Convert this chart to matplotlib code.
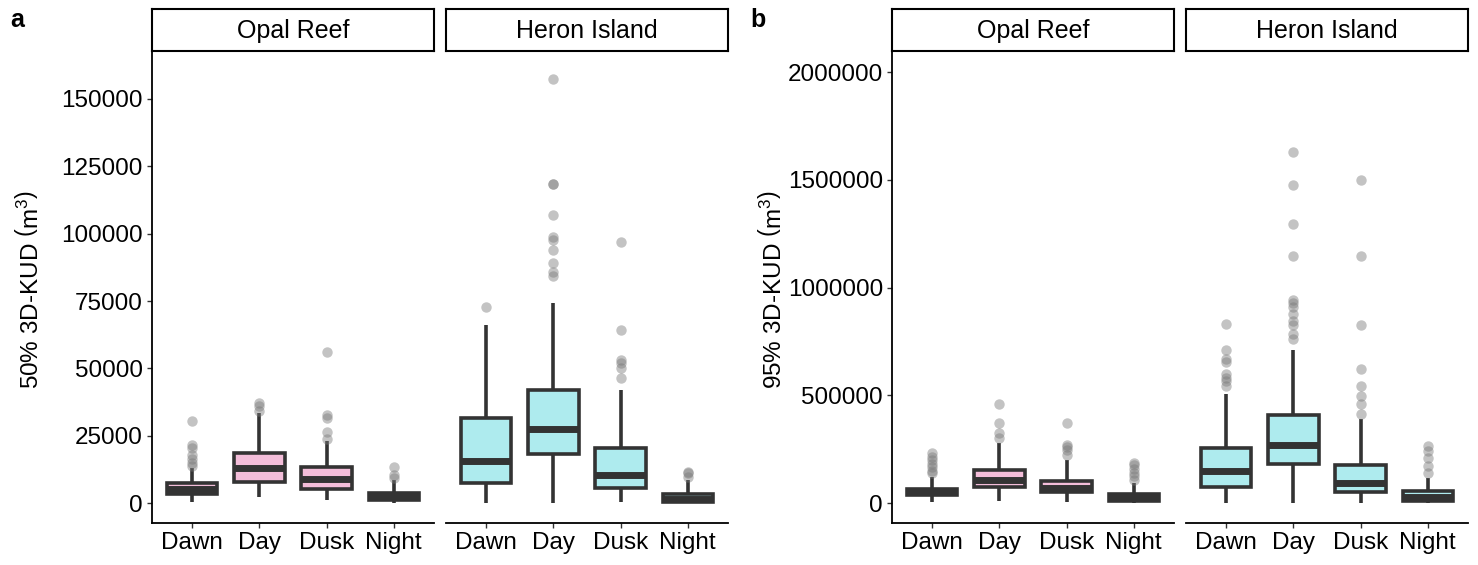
import matplotlib
matplotlib.use("Agg")
import matplotlib.pyplot as plt

plt.rcParams["font.family"] = ["Liberation Sans", "DejaVu Sans"]
plt.rcParams["mathtext.fontset"] = "custom"
plt.rcParams["mathtext.rm"] = "Liberation Sans"
plt.rcParams["mathtext.it"] = "Liberation Sans:italic"

periods = ["Dawn", "Day", "Dusk", "Night"]
sites = ["Opal Reef", "Heron Island"]

# five-number summaries per period: [lower whisker, Q1, median, Q3, upper whisker]
k50_opal_box = [[400, 3300, 5100, 7500, 13000],
                [2100, 7700, 13000, 18700, 33400],
                [1100, 5100, 8800, 13300, 23000],
                [0, 1150, 2400, 3700, 8500]]
k50_opal_out = [[13800, 15000, 16500, 17800, 20400, 21600, 30500],
                [34000, 36000, 37000],
                [23800, 26500, 31500, 32700, 56000],
                [9300, 10500, 13500]]
k50_heron_box = [[0, 7300, 15600, 31700, 66100],
                 [0, 18100, 27500, 42000, 74200],
                 [300, 5500, 10400, 20500, 42000],
                 [0, 550, 1600, 3500, 8500]]
k50_heron_out = [[72600],
                 [84100, 85900, 89000, 94000, 97700, 98900, 107100, 118500, 118500, 157500],
                 [46300, 50000, 51900, 53100, 64300, 96800],
                 [9800, 11000, 11600]]

k95_opal_box = [[6000, 35000, 51000, 67000, 123000],
                [7000, 76500, 108000, 155000, 279000],
                [3000, 50000, 71000, 101000, 200000],
                [0, 11600, 25000, 39500, 95000]]
k95_opal_out = [[139000, 150000, 165000, 180000, 200000, 215000, 232000],
                [302000, 326000, 372000, 461000],
                [224000, 248000, 262000, 271000, 372000],
                [107000, 125000, 140000, 160000, 175000, 186000]]
k95_heron_box = [[0, 76200, 149500, 255600, 504700],
                 [0, 181000, 271000, 406500, 710000],
                 [0, 53000, 92800, 178600, 388000],
                 [0, 10000, 30000, 55000, 115000]]
k95_heron_out = [[543000, 565000, 582000, 598000, 653000, 668000, 710000, 832000],
                 [762000, 785000, 824000, 844000, 878000, 910000, 930000, 941000,
                  1146000, 1294000, 1478000, 1631000],
                 [411000, 458000, 497000, 543000, 621000, 824000, 1146000, 1497000],
                 [139000, 170000, 209000, 240000, 263000]]

site_fill = {"Opal Reef": "#F3BDD9", "Heron Island": "#AEEBEE"}
dark = "#333333"

W, H = 1478, 565
fig = plt.figure(figsize=(W / 100, H / 100), dpi=100)


def px_rect(x0, x1, y_top, y_bot):
    return [x0 / W, 1 - y_bot / H, (x1 - x0) / W, (y_bot - y_top) / H]


def stats_from(boxes, outs):
    rows = []
    for (lo, q1, med, q3, hi), fl in zip(boxes, outs):
        rows.append(dict(whislo=lo, q1=q1, med=med, q3=q3, whishi=hi, fliers=fl))
    return rows


def draw_facet(x0, x1, site, boxes, outs, ylim, yticks, first):
    ax = fig.add_axes(px_rect(x0, x1, 51, 523))
    fill = site_fill[site]
    ax.bxp(stats_from(boxes, outs), positions=range(1, 5), widths=0.75,
           patch_artist=True, showcaps=False,
           boxprops=dict(facecolor=fill, edgecolor=dark, linewidth=2.6),
           whiskerprops=dict(color=dark, linewidth=2.6, solid_capstyle="butt"),
           medianprops=dict(color=dark, linewidth=5.0, solid_capstyle="butt"),
           flierprops=dict(marker="o", markerfacecolor="#7a7a7a",
                           markeredgecolor="none", alpha=0.45, markersize=7.5))
    ax.set_xlim(0.4, 4.6)
    ax.set_ylim(*ylim)
    ax.set_xticks(range(1, 5))
    ax.set_xticklabels(periods)
    ax.set_yticks(yticks)
    ax.set_yticklabels([str(v) for v in yticks])
    for s in ["top", "right"]:
        ax.spines[s].set_visible(False)
    ax.spines["bottom"].set_linewidth(1.3)
    ax.spines["left"].set_linewidth(1.3)
    ax.tick_params(axis="both", length=3.5, width=1.0, color=dark,
                   labelsize=17.5, labelcolor="black", pad=3)
    if not first:
        ax.spines["left"].set_visible(False)
        ax.tick_params(axis="y", left=False, labelleft=False)

    # facet strip
    sx = fig.add_axes(px_rect(x0, x1, 9, 51))
    sx.set_xticks([])
    sx.set_yticks([])
    for s in sx.spines.values():
        s.set_linewidth(1.5)
        s.set_color("black")
    sx.text(0.5, 0.48, site, ha="center", va="center", fontsize=18,
            transform=sx.transAxes)
    return ax


panels = [
    ("a", 152, [k50_opal_box, k50_heron_box], [k50_opal_out, k50_heron_out],
     (-7400, 167800), list(range(0, 150001, 25000)), "50% 3D-KUD", 30),
    ("b", 892, [k95_opal_box, k95_heron_box], [k95_opal_out, k95_heron_out],
     (-92800, 2098000), list(range(0, 2000001, 500000)), "95% 3D-KUD", 772),
]

for letter, left, boxes, outs, ylim, yticks, label, lab_x in panels:
    for i, site in enumerate(sites):
        x0 = left + i * 294
        draw_facet(x0, x0 + 282, site, boxes[i], outs[i], ylim, yticks, i == 0)
    fig.text(lab_x / W, 1 - 290 / H, label + r" $\left(\mathrm{m}^{3}\right)$",
             rotation=90, ha="center", va="center", fontsize=17.5)
    fig.text((left - 142) / W if letter == "a" else 750 / W, 1 - 20 / H, letter,
             fontsize=18, fontweight="bold", ha="left", va="center")

fig.savefig("out.png", dpi=100)
